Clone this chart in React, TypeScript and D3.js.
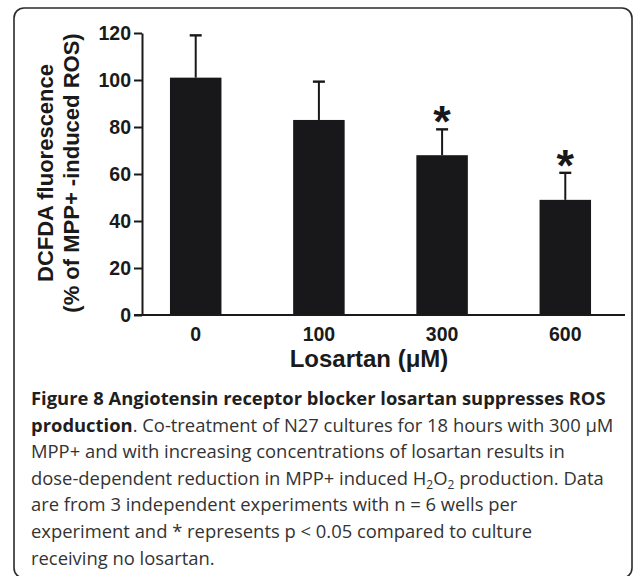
import React, { useEffect, useRef } from "react";
import * as d3 from "d3";

const categories = ["0", "100", "300", "600"];
const means = [101, 83, 68, 49];
const errors = [18, 16.3, 11, 11.5];
const significant = [false, false, true, true];
const yTicks = [0, 20, 40, 60, 80, 100, 120];
const yLabelLines = ["DCFDA fluorescence", "(% of MPP+ -induced ROS)"];
const xTitle = "Losartan (\u03bcM)";

const W = 633;
const H = 576;

export default function App() {
  const ref = useRef<SVGSVGElement>(null);

  useEffect(() => {
    const svg = d3.select(ref.current);
    svg.selectAll("*").remove();

    const axisX = 142;
    const y = d3.scaleLinear().domain([0, 120]).range([315, 33]);
    const x = d3
      .scaleBand<string>()
      .domain(categories)
      .range([142, 619])
      .paddingInner(0.582)
      .paddingOuter(0.227);

    // frame
    svg
      .append("rect")
      .attr("x", 14)
      .attr("y", 8)
      .attr("width", 618)
      .attr("height", 570)
      .attr("rx", 10)
      .attr("fill", "none")
      .attr("stroke", "#2b2b2b")
      .attr("stroke-width", 1.6);

    const barColor = "#18181a";

    // bars
    svg
      .append("g")
      .selectAll("rect")
      .data(categories)
      .join("rect")
      .attr("x", (d) => x(d)!)
      .attr("width", x.bandwidth())
      .attr("y", (d, i) => y(means[i]))
      .attr("height", (d, i) => y(0) - y(means[i]))
      .attr("fill", barColor);

    // error bars (upper only)
    const eg = svg.append("g").attr("stroke", barColor).attr("stroke-width", 2);
    categories.forEach((c, i) => {
      const cx = x(c)! + x.bandwidth() / 2;
      const top = y(means[i] + errors[i]);
      eg.append("line")
        .attr("x1", cx)
        .attr("x2", cx)
        .attr("y1", y(means[i]))
        .attr("y2", top);
      eg.append("line")
        .attr("x1", cx - 6)
        .attr("x2", cx + 6)
        .attr("y1", top)
        .attr("y2", top)
        .attr("stroke-width", 2.4);
      if (significant[i]) {
        svg
          .append("text")
          .attr("x", cx)
          .attr("y", top + 8)
          .attr("text-anchor", "middle")
          .attr("font-family", "'Liberation Sans', Arial, sans-serif")
          .attr("font-weight", "bold")
          .attr("font-size", 45)
          .attr("fill", barColor)
          .text("*");
      }
    });

    // y axis
    const yAxis = d3
      .axisLeft(y)
      .tickValues(yTicks)
      .tickSize(8)
      .tickSizeOuter(0)
      .tickPadding(3)
      .tickFormat(d3.format("d"));
    const gy = svg
      .append("g")
      .attr("transform", `translate(${axisX},0)`)
      .call(yAxis);
    gy.select(".domain").attr("stroke", "#1a1a1a").attr("stroke-width", 2);
    gy.selectAll(".tick line").attr("stroke", "#1a1a1a").attr("stroke-width", 2);
    gy.selectAll(".tick text")
      .attr("font-family", "'Liberation Sans', Arial, sans-serif")
      .attr("font-weight", "bold")
      .attr("font-size", 19.5)
      .attr("fill", "#1a1a1a");

    // x axis
    const xAxis = d3.axisBottom(x).tickSize(0).tickPadding(12);
    const gx = svg
      .append("g")
      .attr("transform", `translate(0,${y(0)})`)
      .call(xAxis);
    gx.select(".domain").remove();
    gx.selectAll(".tick text")
      .attr("font-family", "'Liberation Sans', Arial, sans-serif")
      .attr("font-weight", "bold")
      .attr("font-size", 19.5)
      .attr("fill", "#1a1a1a");
    svg
      .append("line")
      .attr("x1", 134)
      .attr("x2", 625)
      .attr("y1", y(0))
      .attr("y2", y(0))
      .attr("stroke", "#1a1a1a")
      .attr("stroke-width", 2);

    // x title
    svg
      .append("text")
      .attr("x", 369)
      .attr("y", 367)
      .attr("text-anchor", "middle")
      .attr("font-family", "'Liberation Sans', Arial, sans-serif")
      .attr("font-weight", "bold")
      .attr("font-size", 24)
      .attr("fill", "#1a1a1a")
      .text(xTitle);

    // y title
    const yl = svg
      .append("g")
      .attr("font-family", "'Liberation Sans', Arial, sans-serif")
      .attr("font-weight", "bold")
      .attr("font-size", 22)
      .attr("fill", "#1a1a1a")
      .attr("text-anchor", "middle");
    [53, 79].forEach((bx, i) => {
      yl.append("text")
        .attr("transform", `translate(${bx},173) rotate(-90)`)
        .text(yLabelLines[i]);
    });

    // caption
    const cap = svg
      .append("g")
      .attr("font-family", "'Open Sans', sans-serif")
      .attr("font-size", 18.4)
      .attr("fill", "#333333");
    const x0 = 31;
    const b0 = 405;
    const ls = 26.6;
    const l1 = cap.append("text").attr("x", x0).attr("y", b0);
    l1.append("tspan")
      .attr("font-weight", "bold")
      .attr("fill", "#1f1f1f")
      .text("Figure 8 Angiotensin receptor blocker losartan suppresses ROS");
    const l2 = cap.append("text").attr("x", x0).attr("y", b0 + ls);
    l2.append("tspan").attr("font-weight", "bold").attr("fill", "#1f1f1f").text("production");
    l2.append("tspan").text(". Co-treatment of N27 cultures for 18 hours with 300 \u00b5M");
    cap.append("text").attr("x", x0).attr("y", b0 + 2 * ls)
      .text("MPP+ and with increasing concentrations of losartan results in");
    const l4 = cap.append("text").attr("x", x0).attr("y", b0 + 3 * ls);
    l4.append("tspan").text("dose-dependent reduction in MPP+ induced H");
    l4.append("tspan").attr("font-size", 12).attr("baseline-shift", "-4").text("2");
    l4.append("tspan").text("O");
    l4.append("tspan").attr("font-size", 12).attr("baseline-shift", "-4").text("2");
    l4.append("tspan").text(" production. Data");
    cap.append("text").attr("x", x0).attr("y", b0 + 4 * ls)
      .text("are from 3 independent experiments with n = 6 wells per");
    cap.append("text").attr("x", x0).attr("y", b0 + 5 * ls)
      .text("experiment and * represents p < 0.05 compared to culture");
    cap.append("text").attr("x", x0).attr("y", b0 + 6 * ls)
      .text("receiving no losartan.");
  }, []);

  return (
    <svg
      ref={ref}
      width={W}
      height={H}
      style={{ position: "absolute", left: 0, top: 0, background: "#ffffff" }}
    />
  );
}
